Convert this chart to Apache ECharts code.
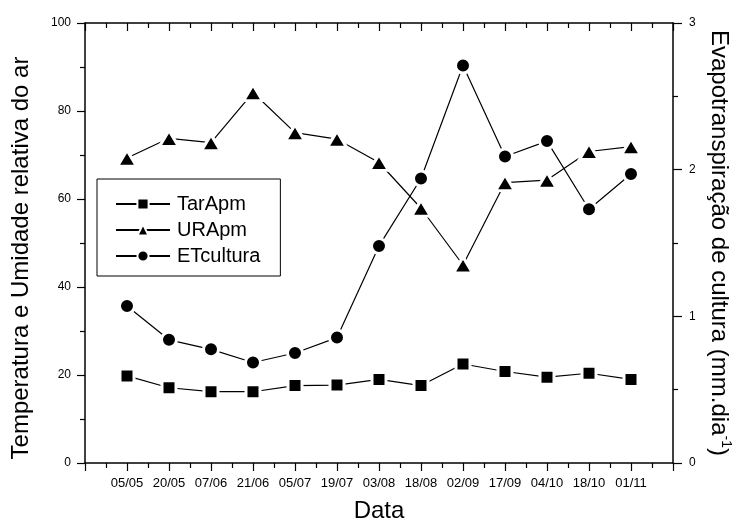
<!DOCTYPE html>
<html>
<head>
<meta charset="utf-8">
<script src="https://cdn.jsdelivr.net/npm/echarts@6/dist/echarts.min.js"></script>
<style>
  html, body { margin: 0; padding: 0; background: #fff; }
  #chart { width: 736px; height: 526px; }
</style>
</head>
<body>
<div id="chart"></div>
<script>
// Sampling dates
const datas = ['05/05', '20/05', '07/06', '21/06', '05/07', '19/07', '03/08',
               '18/08', '02/09', '17/09', '04/10', '18/10', '01/11'];
// Air temperature (°C) and relative humidity (%) — left axis
const tarApm = [19.8, 17.1, 16.2, 16.2, 17.6, 17.7, 19.0, 17.6, 22.5, 20.8, 19.5, 20.4, 19.0];
const urApm  = [69.3, 73.8, 72.8, 84.2, 75.1, 73.6, 68.3, 57.9, 45.0, 63.7, 64.3, 70.8, 71.9];
// Crop evapotranspiration (mm/day) — right axis
const etCultura = [1.07, 0.84, 0.775, 0.685, 0.75, 0.855, 1.48, 1.94, 2.71, 2.09, 2.195, 1.73, 1.97];

const FONT = 'Liberation Sans, Arial, sans-serif';
const pairs = vals => vals.map((v, i) => [i, v]);
const markerStyle = { color: '#000', borderColor: '#fff', borderWidth: 3 };
const lineStyle = { color: '#000', width: 1.2 };
const tickStyle = { color: '#000', width: 1.2 };

const chart = echarts.init(document.getElementById('chart'), null, { renderer: 'canvas' });

const xBase = {
  type: 'value', min: -1, max: 13, interval: 1,
  splitLine: { show: false },
  axisLine: { show: true, onZero: false, lineStyle: { color: '#000', width: 1.5 } }
};

chart.setOption({
  animation: false,
  backgroundColor: '#fff',
  grid: { left: 85, right: 63, top: 23, bottom: 63, containLabel: false, outerBoundsMode: 'none' },
  legend: {
    orient: 'vertical',
    left: 97, top: 179,
    padding: [15, 20, 10, 18],
    borderColor: '#000', borderWidth: 1,
    itemWidth: 54, itemHeight: 14, itemGap: 6,
    textStyle: { fontFamily: FONT, fontSize: 20, color: '#000', padding: [0, 0, 0, 2] },
    data: ['TarApm', 'URApm', 'ETcultura']
  },
  xAxis: [
    Object.assign({}, xBase, {
      position: 'bottom',
      name: 'Data', nameLocation: 'middle', nameGap: 36,
      nameTextStyle: { fontFamily: FONT, fontSize: 24, color: '#000' },
      axisTick: { show: true, inside: false, length: 8, lineStyle: tickStyle },
      minorTick: { show: true, splitNumber: 2, length: 5, lineStyle: tickStyle },
      axisLabel: {
        margin: 14, fontFamily: FONT, fontSize: 13, color: '#000',
        formatter: v => (Number.isInteger(v) && v >= 0 && v < datas.length) ? datas[v] : ''
      }
    }),
    Object.assign({}, xBase, {
      position: 'top',
      axisTick: { show: true, inside: true, length: 8, lineStyle: tickStyle },
      minorTick: { show: true, splitNumber: 2, length: 5, lineStyle: tickStyle },
      axisLabel: { show: false }
    })
  ],
  yAxis: [
    {
      type: 'value', min: 0, max: 100, interval: 20, position: 'left',
      name: 'Temperatura e Umidade relativa do ar',
      nameLocation: 'middle', nameRotate: 90, nameGap: 52,
      nameTextStyle: { fontFamily: FONT, fontSize: 24, color: '#000', padding: [0, 30, 0, 0] },
      splitLine: { show: false },
      axisLine: { show: true, onZero: false, lineStyle: { color: '#000', width: 1.5 } },
      axisTick: { show: true, inside: false, length: 8, lineStyle: tickStyle },
      minorTick: { show: true, splitNumber: 2, length: 5, lineStyle: tickStyle },
      axisLabel: { margin: 14, fontFamily: FONT, fontSize: 12, color: '#000' }
    },
    {
      type: 'value', min: 0, max: 3, interval: 1, position: 'right',
      name: '{t|Evapotranspiração de cultura (mm.dia}{sup|-1}{t|)}',
      nameLocation: 'middle', nameRotate: -90, nameGap: 32,
      nameTextStyle: {
        fontFamily: FONT, fontSize: 24, color: '#000',
        rich: {
          t: { fontFamily: FONT, fontSize: 24, color: '#000', lineHeight: 28 },
          sup: { fontFamily: FONT, fontSize: 14, color: '#000', verticalAlign: 'top', lineHeight: 28 }
        }
      },
      splitLine: { show: false },
      axisLine: { show: true, onZero: false, lineStyle: { color: '#000', width: 1.5 } },
      axisTick: { show: true, inside: false, length: 9, lineStyle: tickStyle },
      minorTick: { show: true, splitNumber: 2, length: 5, lineStyle: tickStyle },
      axisLabel: { margin: 16, fontFamily: FONT, fontSize: 12, color: '#000' }
    }
  ],
  series: [
    {
      name: 'TarApm', type: 'line', xAxisIndex: 0, yAxisIndex: 0,
      data: pairs(tarApm), symbol: 'rect', symbolSize: 14,
      itemStyle: markerStyle, lineStyle: lineStyle
    },
    {
      name: 'URApm', type: 'line', xAxisIndex: 0, yAxisIndex: 0,
      data: pairs(urApm), symbol: 'triangle', symbolSize: [19, 16],
      itemStyle: markerStyle, lineStyle: lineStyle
    },
    {
      name: 'ETcultura', type: 'line', xAxisIndex: 0, yAxisIndex: 1,
      data: pairs(etCultura), symbol: 'circle', symbolSize: 15,
      itemStyle: markerStyle, lineStyle: lineStyle
    }
  ]
});
</script>
</body>
</html>
